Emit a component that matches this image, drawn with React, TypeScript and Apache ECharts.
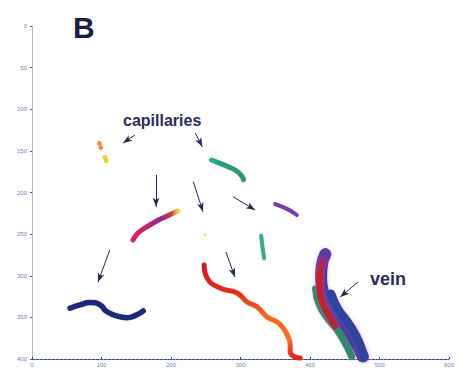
import React, { useEffect, useRef } from "react";
import * as echarts from "echarts";

// ---- data (x, y) ----
const xTicks = [0, 100, 200, 300, 400, 500, 600];
const yTicks = [0, 50, 100, 150, 200, 250, 300, 350, 400];

const navyTrack = [[54.7, 339], [69, 335], [83.5, 332], [98, 335], [107.5, 343], [122, 348.3], [136.3, 350.4], [150.7, 347], [160, 342.3]];
const orangeDots = [[97, 141], [99, 146]];
const yellowDots = [[105, 158], [107, 162]];
const magentaTrack = [[145.4, 257], [152.6, 248.6], [162.7, 242.6], [177, 235.4], [191.5, 229.4], [210, 222.2]];
const greenTrack = [[258.4, 161], [270.6, 165], [282.4, 169], [294.9, 174.5], [302, 180.5], [304.2, 184.5]];
const purpleTrack = [[350, 214], [362, 217.8], [374, 223], [381, 227]];
const tealTrack = [[329.7, 252], [331.6, 265], [334, 279]];
const paleDot = [[249, 251]];
const redTrack = [[247.7, 287.1], [252, 302.7], [270.7, 314.7], [295.2, 320.7], [309.6, 331.5], [324, 337.5], [338.4, 349.5], [352.8, 355.6], [361.4, 362.8], [368.6, 373.6], [371.5, 383.2], [371.5, 391.6], [378.7, 397.6], [385.9, 398.8]];
const veinPurple = [[422, 274], [417, 288], [416, 303], [419, 320], [427, 337], [441, 352], [456, 368], [468, 384], [476, 397]];
const veinBlue = [[430, 322], [440, 340], [455, 357], [466, 372], [474, 388], [478, 398]];
const veinGreen = [[408, 316], [413, 334], [424, 350], [438, 364], [450, 380], [460, 397]];
const veinRed = [[419, 282], [414, 298], [414, 316], [418, 332], [426, 346], [436, 360]];
const arrowPairs = [
  [[148, 131], [131, 140.5]],
  [[235, 128.5], [245, 145]],
  [[178.5, 179], [178.5, 217]],
  [[232, 187], [246, 223]],
  [[289, 205], [321, 221]],
  [[279, 271.5], [292, 301.5]],
  [[112, 269], [95, 307.5]],
  [[469, 307.5], [443.5, 325.5]],
];
const labels = ["B", "capillaries", "vein"];

const lg = (x2: number, y2: number, stops: [number, string][]) =>
  new echarts.graphic.LinearGradient(0, 0, x2, y2, stops.map(([offset, color]) => ({ offset, color })));

const track = (data: number[][], color: any, width: number, z = 2, glow = "rgba(0,0,0,0.08)", blur = 2) => ({
  type: "line",
  data,
  smooth: true,
  showSymbol: false,
  symbol: "none",
  z,
  silent: true,
  lineStyle: { color, width, cap: "round", join: "round", shadowBlur: blur, shadowColor: glow },
});

export default function App() {
  const ref = useRef<HTMLDivElement>(null);
  useEffect(() => {
    const chart = echarts.init(ref.current!, undefined, { renderer: "svg" });
    const labelStyle = { color: "#7282bf", fontSize: 6, fontFamily: "Liberation Sans, Arial, sans-serif" };
    const veinGlow = "rgba(210,120,210,0.45)";
    chart.setOption({
      animation: false,
      backgroundColor: "#ffffff",
      grid: { left: 32, right: 12, top: 26, bottom: 13 },
      xAxis: {
        type: "value",
        min: xTicks[0],
        max: xTicks[xTicks.length - 1],
        interval: 100,
        splitLine: { show: false },
        axisLine: { show: true, onZero: false, lineStyle: { color: "#3a4a9a", width: 1, type: [3, 1] } },
        axisTick: { show: true, length: 2, inside: true, lineStyle: { color: "#3a4a9a" } },
        axisLabel: { ...labelStyle, margin: 3 },
      },
      yAxis: {
        type: "value",
        inverse: true,
        min: yTicks[0],
        max: yTicks[yTicks.length - 1],
        interval: 50,
        splitLine: { show: false },
        axisLine: { show: true, onZero: false, lineStyle: { color: "#a9b6d8", width: 1 } },
        axisTick: { show: true, length: 2, lineStyle: { color: "#4a5aa0" } },
        axisLabel: { ...labelStyle, margin: 5 },
      },
      series: [
        track(navyTrack, "#1f2a7a", 5.5),
        {
          type: "scatter", data: orangeDots, symbolSize: 5, silent: true,
          itemStyle: { color: "#f0843c", opacity: 0.9 },
        },
        {
          type: "scatter", data: yellowDots, symbolSize: 5, silent: true,
          itemStyle: { color: "#e6cf2a", opacity: 0.9 },
        },
        track(magentaTrack, lg(1, 0, [[0, "#e0205e"], [0.35, "#b8286e"], [0.6, "#8a2a8a"], [0.85, "#c83a4a"], [1, "#f0d84a"]]), 5),
        track(greenTrack, lg(1, 0, [[0, "#2aa6a6"], [0.25, "#2a9c7c"], [1, "#2a9a6c"]]), 5),
        track(purpleTrack, "#7a3aa8", 4),
        track(tealTrack, "#3aaa84", 4),
        {
          type: "scatter", data: paleDot, symbolSize: 4, silent: true,
          itemStyle: { color: "#f2e27a" },
        },
        track(redTrack, lg(0, 1, [[0, "#c81e2a"], [0.3, "#e2301e"], [0.55, "#f06a26"], [0.8, "#f2702a"], [1, "#e0261a"]]), 5),
        track(veinPurple, lg(0, 1, [[0, "#5a3aa4"], [0.5, "#44389c"], [1, "#323a96"]]), 12, 2, veinGlow, 5),
        track(veinBlue, "#33409e", 9, 3, veinGlow, 4),
        track(veinGreen, "#2e8a6c", 7, 4, veinGlow, 3),
        track(veinRed, lg(0, 1, [[0, "#a02a6a"], [0.2, "#c8202c"], [1, "#b0283a"]]), 7, 5, veinGlow, 3),
        {
          type: "line",
          data: [],
          silent: true,
          markLine: {
            silent: true,
            animation: false,
            symbol: ["none", "arrow"],
            symbolSize: [5, 9],
            label: { show: false },
            lineStyle: { color: "#1e2a52", width: 1, type: "solid" },
            emphasis: { disabled: true },
            data: arrowPairs.map(([a, b]) => [{ coord: a }, { coord: b }]),
          },
        },
      ],
      graphic: [
        {
          type: "text", left: 73, top: 12,
          style: { text: labels[0], fontSize: 30, fontWeight: "bold", fill: "#1c1f45", fontFamily: "Liberation Sans, Arial, sans-serif" },
        },
        {
          type: "text", left: 123, top: 112,
          style: { text: labels[1], fontSize: 16, fontWeight: "bold", fill: "#2a2e5c", fontFamily: "Liberation Sans, Arial, sans-serif" },
        },
        {
          type: "text", left: 370, top: 270,
          style: { text: labels[2], fontSize: 18, fontWeight: "bold", fill: "#2a2e5c", fontFamily: "Liberation Sans, Arial, sans-serif" },
        },
      ],
    });
    return () => chart.dispose();
  }, []);
  return <div ref={ref} style={{ width: 461, height: 372, position: "absolute", left: 0, top: 0 }} />;
}
